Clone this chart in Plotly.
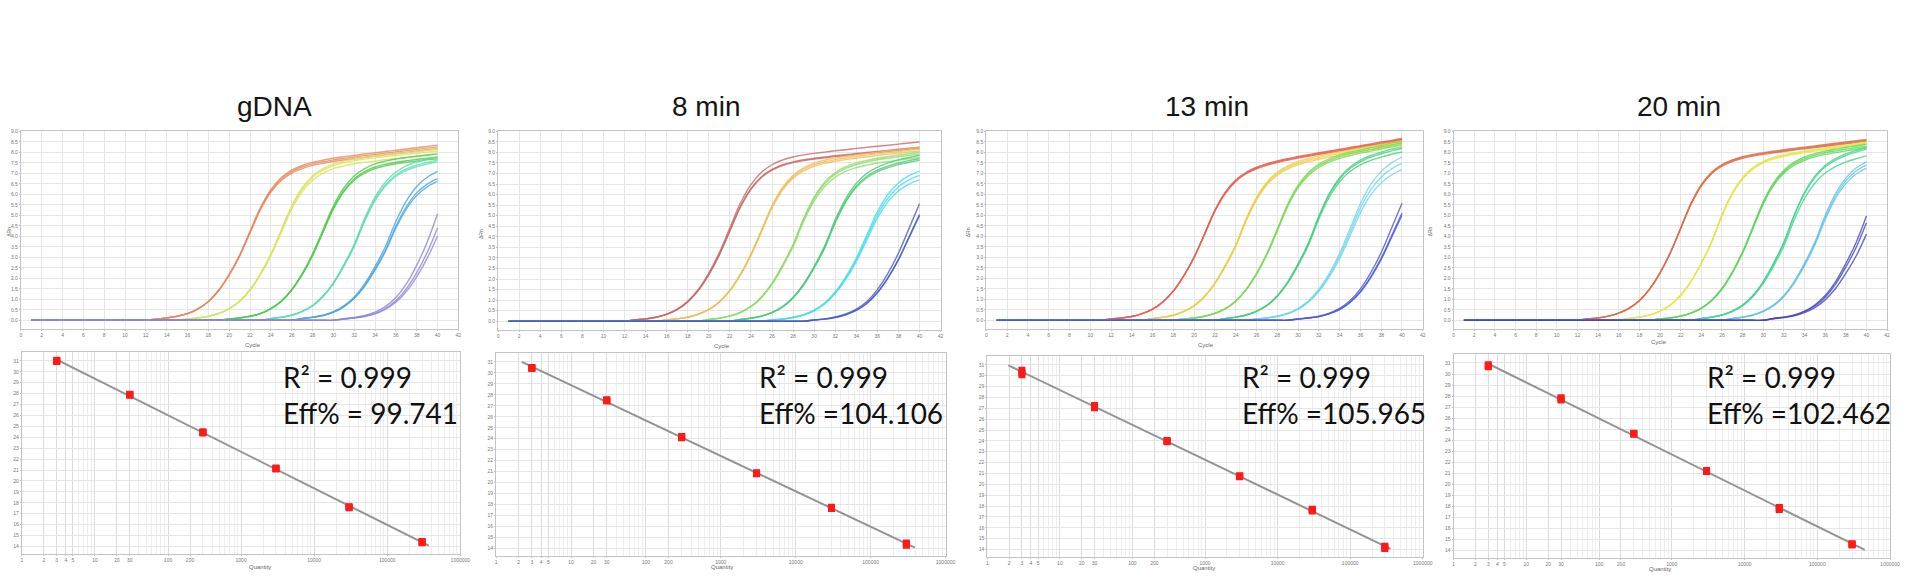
import plotly.graph_objects as go
import numpy as np

W, H = 1913, 578

# ---------------- data ----------------
CYCLES = list(range(1, 41))
PANEL_TITLES = ["gDNA", "8 min", "13 min", "20 min"]
R2_TEXT = ["R² = 0.999", "R² = 0.999", "R² = 0.999", "R² = 0.999"]
EFF_TEXT = ["Eff% = 99.741", "Eff% =104.106", "Eff% =105.965", "Eff% =102.462"]

# amplification curves (delta Rn per cycle), one representative curve per dilution
P1_G1 = [0.0]*12 + [0.06, 0.11, 0.19, 0.32, 0.54, 0.89, 1.43, 2.17, 3.08, 4.20, 5.32, 6.16, 6.73, 7.08, 7.30, 7.45, 7.55, 7.64, 7.71, 7.77, 7.84, 7.90, 7.96, 8.02, 8.08, 8.14, 8.20, 8.26]
P1_G2 = [0.0]*15 + [0.06, 0.11, 0.19, 0.32, 0.55, 0.90, 1.44, 2.18, 3.10, 4.22, 5.34, 6.18, 6.74, 7.08, 7.30, 7.43, 7.53, 7.60, 7.66, 7.72, 7.77, 7.83, 7.88, 7.93, 7.98]
P1_G3 = [0.0]*19 + [0.06, 0.11, 0.19, 0.32, 0.55, 0.90, 1.44, 2.18, 3.10, 4.22, 5.34, 6.18, 6.74, 7.08, 7.30, 7.43, 7.53, 7.60, 7.66, 7.72, 7.77]
P1_G4 = [0.0]*23 + [0.08, 0.14, 0.24, 0.42, 0.69, 1.13, 1.76, 2.59, 3.55, 4.76, 5.76, 6.46, 6.92, 7.21, 7.39, 7.52, 7.63]
P1_G5 = [0.0]*26 + [0.08, 0.14, 0.23, 0.39, 0.66, 1.07, 1.67, 2.46, 3.38, 4.52, 5.46, 6.13, 6.55, 6.82]
P1_G6 = [0.0]*30 + [0.06, 0.11, 0.19, 0.32, 0.55, 0.90, 1.44, 2.18, 3.10, 4.23]

P2_G1 = [0.0]*12 + [0.07, 0.11, 0.19, 0.33, 0.56, 0.93, 1.48, 2.24, 3.19, 4.34, 5.49, 6.35, 6.92, 7.27, 7.49, 7.63, 7.73, 7.80, 7.86, 7.92, 7.97, 8.03, 8.08, 8.13, 8.18, 8.23, 8.28, 8.33]
P2_G2 = [0.0]*15 + [0.06, 0.11, 0.19, 0.33, 0.55, 0.91, 1.46, 2.21, 3.15, 4.28, 5.42, 6.28, 6.85, 7.20, 7.42, 7.56, 7.66, 7.74, 7.81, 7.87, 7.93, 7.99, 8.04, 8.10, 8.15]
P2_G3 = [0.0]*19 + [0.08, 0.14, 0.25, 0.42, 0.70, 1.14, 1.78, 2.63, 3.60, 4.82, 5.82, 6.52, 6.97, 7.25, 7.43, 7.55, 7.65, 7.72, 7.79, 7.86, 7.92]
P2_G4 = [0.0]*22 + [0.08, 0.14, 0.24, 0.41, 0.68, 1.11, 1.73, 2.55, 3.50, 4.71, 5.70, 6.41, 6.87, 7.16, 7.35, 7.50, 7.61, 7.70]
P2_G5 = [0.0]*25 + [0.06, 0.10, 0.18, 0.30, 0.51, 0.84, 1.35, 2.04, 2.91, 3.96, 5.03, 5.83, 6.36, 6.70, 6.91]
P2_G6 = [0.0]*29 + [0.06, 0.10, 0.18, 0.31, 0.52, 0.85, 1.36, 2.06, 2.93, 3.99, 5.06]

P3_G1 = [0.0]*11 + [0.06, 0.11, 0.18, 0.32, 0.53, 0.88, 1.40, 2.12, 3.02, 4.12, 5.25, 6.10, 6.68, 7.05, 7.29, 7.46, 7.59, 7.70, 7.80, 7.89, 7.98, 8.06, 8.15, 8.23, 8.32, 8.40, 8.49, 8.57, 8.66]
P3_G2 = [0.0]*15 + [0.08, 0.14, 0.24, 0.42, 0.69, 1.13, 1.76, 2.59, 3.55, 4.78, 5.79, 6.51, 6.98, 7.28, 7.48, 7.63, 7.75, 7.85, 7.94, 8.03, 8.12, 8.21, 8.29, 8.38, 8.46]
P3_G3 = [0.0]*18 + [0.06, 0.11, 0.19, 0.33, 0.55, 0.91, 1.46, 2.21, 3.15, 4.30, 5.47, 6.37, 6.97, 7.36, 7.61, 7.79, 7.93, 8.04, 8.14, 8.24, 8.34, 8.43]
P3_G4 = [0.0]*22 + [0.08, 0.15, 0.25, 0.43, 0.71, 1.16, 1.81, 2.66, 3.65, 4.92, 5.98, 6.73, 7.23, 7.55, 7.77, 7.93, 8.07, 8.18]
P3_G5 = [0.0]*25 + [0.06, 0.11, 0.19, 0.32, 0.54, 0.89, 1.42, 2.15, 3.06, 4.19, 5.34, 6.22, 6.82, 7.21, 7.47]
P3_G6 = [0.0]*29 + [0.06, 0.11, 0.18, 0.32, 0.53, 0.88, 1.40, 2.12, 3.02, 4.11, 5.21]

P4_G1 = [0.0]*12 + [0.07, 0.11, 0.20, 0.34, 0.57, 0.94, 1.50, 2.27, 3.23, 4.40, 5.57, 6.46, 7.05, 7.41, 7.64, 7.79, 7.90, 7.98, 8.06, 8.12, 8.19, 8.25, 8.31, 8.37, 8.43, 8.49, 8.55, 8.61]
P4_G2 = [0.0]*16 + [0.09, 0.15, 0.26, 0.44, 0.73, 1.19, 1.86, 2.73, 3.75, 5.02, 6.07, 6.80, 7.27, 7.57, 7.76, 7.89, 7.98, 8.07, 8.14, 8.21, 8.28, 8.35, 8.41, 8.48]
P4_G3 = [0.0]*19 + [0.07, 0.11, 0.20, 0.34, 0.57, 0.94, 1.50, 2.27, 3.23, 4.41, 5.59, 6.48, 7.08, 7.46, 7.70, 7.86, 7.98, 8.07, 8.15, 8.23, 8.31]
P4_G4 = [0.0]*23 + [0.08, 0.15, 0.25, 0.43, 0.71, 1.16, 1.81, 2.66, 3.65, 4.92, 5.98, 6.73, 7.23, 7.55, 7.77, 7.93, 8.07]
P4_G5 = [0.0]*26 + [0.08, 0.15, 0.25, 0.43, 0.71, 1.16, 1.81, 2.66, 3.65, 4.89, 5.92, 6.64, 7.11, 7.40]
P4_G6 = [0.0]*30 + [0.08, 0.14, 0.23, 0.40, 0.67, 1.08, 1.68, 2.48, 3.40, 4.56]

# replicate scale read from the end-point spread of each triplicate
P1_REP = [[1.01, 1.0, 0.99], [1.02, 1.01, 0.99], [1.02, 1.0, 0.99], [1.02, 1.0, 0.99], [1.04, 0.99, 0.97], [1.2, 1.04, 0.95]]
P2_REP = [[1.02, 0.99, 0.985], [1.01, 1.0, 0.99], [1.01, 1.0, 0.98], [1.02, 1.0, 0.99], [1.03, 1.0, 0.97], [1.1, 1.0, 0.99]]
P3_REP = [[1.0, 0.995, 0.99], [1.01, 1.0, 0.99], [1.01, 1.0, 0.99], [1.01, 1.0, 0.98], [1.04, 1.0, 0.96], [1.07, 0.98, 0.96]]
P4_REP = [[1.0, 0.995, 0.99], [1.0, 0.995, 0.99], [1.01, 1.0, 0.99], [1.02, 1.01, 0.97], [1.02, 1.0, 0.98], [1.09, 1.02, 0.9]]

# standard curves
QUANTITY = [3, 30, 300, 3000, 30000, 300000]
P1_CQ = [[31.0, 30.95, 31.05], [27.85, 27.9, 27.95], [24.45, 24.4, 24.5], [21.15, 21.1, 21.2], [17.6, 17.55, 17.65], [14.4, 14.35, 14.45]]
P2_CQ = [[30.45, 30.4, 30.5], [27.5, 27.45, 27.55], [24.15, 24.1, 24.2], [20.85, 20.8, 20.9], [17.7, 17.65, 17.75], [14.4, 14.3, 14.5]]
P3_CQ = [[30.3, 30.1, 30.5], [27.15, 27.05, 27.25], [23.98, 23.93, 24.03], [20.75, 20.7, 20.8], [17.63, 17.55, 17.7], [14.2, 14.1, 14.3]]
P4_CQ = [[30.75, 30.65, 30.85], [27.75, 27.65, 27.85], [24.58, 24.53, 24.63], [21.2, 21.15, 21.25], [17.8, 17.7, 17.9], [14.55, 14.5, 14.6]]
LINE_EXTENT = [[3.0, 370000], [2.2, 390000], [1.95, 360000], [3.2, 450000]]

QTY_TICKS = [1, 2, 3, 4, 5, 10, 20, 30, 100, 200, 1000, 10000, 100000, 1000000]
AMP_X_TICKS = list(range(0, 43, 2))
AMP_Y_TICKS = [i * 0.5 for i in range(19)]
CQ_TICKS = list(range(14, 32))

# ---------------- styles ----------------
P1_COLORS = ["#E8875E", "#D9E45A", "#4CCB4C", "#5EDDB0", "#4AA6DF", "#8C86DA"]
P2_COLORS = ["#C76868", "#EFBE5C", "#8EDD6A", "#4CCB78", "#45DDEB", "#4A5CC6"]
P3_COLORS = ["#E8604E", "#F0CC44", "#7ADB58", "#48CF7E", "#70D6F0", "#4A58DC"]
P4_COLORS = ["#DE6C4A", "#E6E64C", "#5ED65A", "#3ED68E", "#66C4E8", "#4646C0"]

AMP_BOX = [(20, 460, 129, 328), (500, 945, 129, 329), (991, 1430, 129, 328), (1461, 1897, 129, 328)]
SC_BOX = [(21, 462, 351, 554), (498, 950, 352, 556), (992, 1430, 355, 557), (1461, 1900, 353, 558)]
TITLE_X = [275, 709, 1213, 1688]
TITLE_Y = 104
TEXT_X = [282, 760, 1246, 1714]
TEXT_Y = 394
CYCLE_LBL = [(243, 344), (725, 345), (1212, 344), (1678, 341)]
QTY_LBL = [(247, 572), (725, 572), (1210, 573), (1682, 574)]
DRN_LBL = [(3, 230), (478, 232), (972, 230), (1442, 230)]

CURVES = [
    [P1_G1, P1_G2, P1_G3, P1_G4, P1_G5, P1_G6],
    [P2_G1, P2_G2, P2_G3, P2_G4, P2_G5, P2_G6],
    [P3_G1, P3_G2, P3_G3, P3_G4, P3_G5, P3_G6],
    [P4_G1, P4_G2, P4_G3, P4_G4, P4_G5, P4_G6],
]
REPS = [P1_REP, P2_REP, P3_REP, P4_REP]
COLORS = [P1_COLORS, P2_COLORS, P3_COLORS, P4_COLORS]
CQS = [P1_CQ, P2_CQ, P3_CQ, P4_CQ]

def px_x(x):
    return x / W

def px_y(y):
    return 1 - y / H

fig = go.Figure()
layout = dict(
    width=W, height=H, margin=dict(l=0, r=0, t=0, b=0),
    paper_bgcolor="white", plot_bgcolor="white", showlegend=False,
)

axis_common = dict(
    showline=True, linecolor="#C4C4C4", linewidth=1, mirror=True,
    showgrid=True, gridcolor="#E6E6E6", gridwidth=1, zeroline=False,
    ticks="outside", ticklen=1, tickcolor="#C4C4C4",
    tickfont=dict(family="Liberation Sans", size=5, color="#777777"),
)

annotations = []
for p in range(4):
    ia = 2 * p + 1
    isc = 2 * p + 2
    xa, ya = f"x{ia}", f"y{ia}"
    xs, ys = f"x{isc}", f"y{isc}"

    # amplification curves
    for g in range(6):
        curve = CURVES[p][g]
        for f in REPS[p][g]:
            fig.add_trace(go.Scatter(
                x=CYCLES, y=[v * f for v in curve], mode="lines",
                line=dict(color=COLORS[p][g], width=1.4, shape="spline"),
                opacity=0.8, xaxis=xa, yaxis=ya, hoverinfo="skip"))

    # standard curve: regression line from the data
    xs_all, ys_all = [], []
    for q, reps in zip(QUANTITY, CQS[p]):
        for c in reps:
            xs_all.append(q)
            ys_all.append(c)
    slope, icpt = np.polyfit(np.log10(xs_all), ys_all, 1)
    lx = LINE_EXTENT[p]
    fig.add_trace(go.Scatter(
        x=lx, y=[slope * np.log10(v) + icpt for v in lx], mode="lines",
        line=dict(color="#939393", width=2), xaxis=xs, yaxis=ys, hoverinfo="skip"))
    fig.add_trace(go.Scatter(
        x=xs_all, y=ys_all, mode="markers",
        marker=dict(symbol="square", size=7, color="#FF1A1A", line=dict(width=0)),
        xaxis=xs, yaxis=ys, hoverinfo="skip"))

    x0, x1, y0, y1 = AMP_BOX[p]
    ax_key = "xaxis" if ia == 1 else f"xaxis{ia}"
    ay_key = "yaxis" if ia == 1 else f"yaxis{ia}"
    layout[ax_key] = dict(axis_common, domain=[px_x(x0), px_x(x1)], anchor=ya,
                          range=[0, 42], tickvals=AMP_X_TICKS)
    layout[ay_key] = dict(axis_common, domain=[px_y(y1), px_y(y0)], anchor=xa,
                          range=[-0.43, 9.0], tickvals=AMP_Y_TICKS, tickformat=".1f")

    x0, x1, y0, y1 = SC_BOX[p]
    minor_vals = [m * 10 ** k for k in range(6) for m in range(2, 10)]
    layout[f"xaxis{isc}"] = dict(axis_common, domain=[px_x(x0), px_x(x1)], anchor=ys,
                                 type="log", range=[0, 6], tickvals=QTY_TICKS,
                                 ticktext=[str(v) for v in QTY_TICKS],
                                 gridcolor="#DCDCDC",
                                 minor=dict(tickvals=minor_vals, showgrid=True,
                                            gridcolor="#EEEEEE", ticks=""))
    layout[f"yaxis{isc}"] = dict(axis_common, domain=[px_y(y1), px_y(y0)], anchor=xs,
                                 range=[13.3, 31.8], tickvals=CQ_TICKS)

    # texts
    annotations.append(dict(x=px_x(TITLE_X[p]), y=px_y(TITLE_Y), xref="paper", yref="paper",
                            text=PANEL_TITLES[p], showarrow=False, xanchor="center", yanchor="middle",
                            font=dict(family="Liberation Sans", size=28, color="#151515")))
    annotations.append(dict(x=px_x(TEXT_X[p]), y=px_y(TEXT_Y), xref="paper", yref="paper",
                            text=R2_TEXT[p] + "<br>" + EFF_TEXT[p], showarrow=False,
                            xanchor="left", yanchor="middle", align="left",
                            font=dict(family="Lato", size=28, color="#111111")))
    cx, cy = CYCLE_LBL[p]
    annotations.append(dict(x=px_x(cx), y=px_y(cy), xref="paper", yref="paper", text="Cycle",
                            showarrow=False, font=dict(family="Liberation Sans", size=6, color="#666666")))
    qx, qy = QTY_LBL[p]
    annotations.append(dict(x=px_x(qx), y=px_y(qy), xref="paper", yref="paper", text="Quantity",
                            showarrow=False, font=dict(family="Liberation Sans", size=6, color="#666666")))
    dx, dy = DRN_LBL[p]
    annotations.append(dict(x=px_x(dx), y=px_y(dy), xref="paper", yref="paper", text="ΔRn",
                            textangle=-90, showarrow=False,
                            font=dict(family="Liberation Sans", size=5, color="#666666")))

layout["annotations"] = annotations
fig.update_layout(**layout)
fig.write_html("out.html", config={"displayModeBar": False},
               post_script="document.body.style.margin='0px';document.body.style.overflow='hidden';")
